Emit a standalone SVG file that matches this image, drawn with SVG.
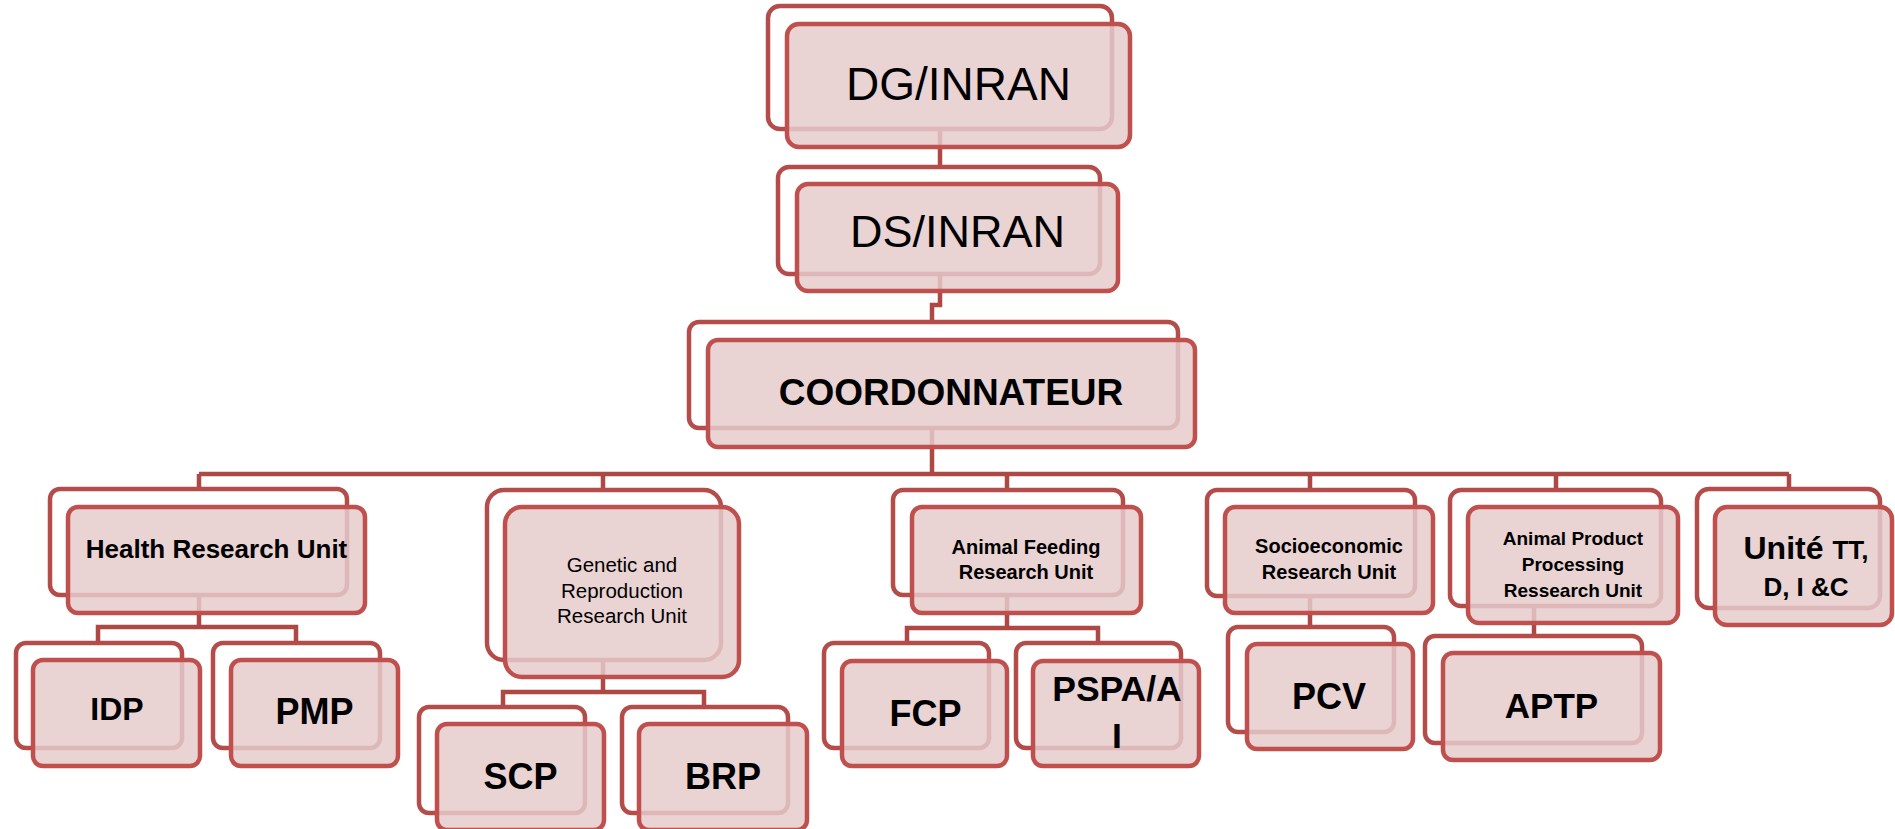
<svg xmlns="http://www.w3.org/2000/svg" width="1895" height="829" viewBox="0 0 1895 829">
<style>
.bk{fill:none;stroke:#B44C49;stroke-width:4.5}
.fr{fill:#E5CBCB;fill-opacity:0.85;stroke:#C0504D;stroke-width:4.5}
.cn{fill:none;stroke:#AD4845;stroke-width:4.5}
text{font-family:"Liberation Sans",Arial,sans-serif;fill:#000;text-anchor:middle}
.b{font-weight:bold}
</style>
<rect width="1895" height="829" fill="#fff"/>
<g id="connectors">
<path class="cn" d="M940,129V167"/>
<path class="cn" d="M940,274V305H932V322"/>
<path class="cn" d="M932,428V474"/>
<path class="cn" d="M199,474H1789"/>
<path class="cn" d="M199,474V489M603,474V490M1007,474V490M1310,474V490M1556,474V490M1789,474V489"/>
<path class="cn" d="M199,595V627M98,642V627H296V642"/>
<path class="cn" d="M603,660V692M503,707V692H704V707"/>
<path class="cn" d="M1007,595V628M907,643V628H1098V643"/>
<path class="cn" d="M1310,596V627"/>
<path class="cn" d="M1534,606V636"/>
</g>
<g id="dg">
<rect class="bk" x="768" y="6" width="344" height="123" rx="12"/>
<rect class="fr" x="787" y="24" width="343" height="123" rx="12"/>
<text x="958.5" y="100" font-size="46">DG/INRAN</text>
</g>
<g id="ds">
<rect class="bk" x="778" y="167" width="322" height="107" rx="11"/>
<rect class="fr" x="797" y="184" width="321" height="107" rx="11"/>
<text x="957.5" y="247" font-size="45">DS/INRAN</text>
</g>
<g id="coord">
<rect class="bk" x="689" y="322" width="489" height="106" rx="10"/>
<rect class="fr" x="708" y="340" width="487" height="107" rx="10"/>
<text class="b" x="951" y="405" font-size="37">COORDONNATEUR</text>
</g>
<g id="health">
<rect class="bk" x="50" y="489" width="297" height="106" rx="10"/>
<rect class="fr" x="68" y="507" width="297" height="106" rx="10"/>
<text class="b" x="216.5" y="558" font-size="26">Health Research Unit</text>
</g>
<g id="idp">
<rect class="bk" x="16" y="643" width="166" height="105" rx="10"/>
<rect class="fr" x="33" y="660" width="167" height="106" rx="10"/>
<text class="b" x="117" y="720" font-size="32">IDP</text>
</g>
<g id="pmp">
<rect class="bk" x="213" y="643" width="167" height="105" rx="10"/>
<rect class="fr" x="231" y="660" width="167" height="106" rx="10"/>
<text class="b" x="314.5" y="724" font-size="36">PMP</text>
</g>
<g id="genetic">
<rect class="bk" x="487" y="490" width="234" height="170" rx="17"/>
<rect class="fr" x="505" y="507" width="234" height="170" rx="17"/>
<text x="622" y="572" font-size="20.5">Genetic and</text>
<text x="622" y="598" font-size="20.5">Reproduction</text>
<text x="622" y="623" font-size="20.5">Research Unit</text>
</g>
<g id="scp">
<rect class="bk" x="419" y="707" width="166" height="106" rx="10"/>
<rect class="fr" x="437" y="724" width="167" height="106" rx="10"/>
<text class="b" x="520.5" y="789" font-size="36">SCP</text>
</g>
<g id="brp">
<rect class="bk" x="622" y="707" width="166" height="106" rx="10"/>
<rect class="fr" x="639" y="724" width="168" height="106" rx="10"/>
<text class="b" x="723" y="789" font-size="36">BRP</text>
</g>
<g id="feeding">
<rect class="bk" x="893" y="490" width="230" height="105" rx="10"/>
<rect class="fr" x="912" y="507" width="229" height="106" rx="10"/>
<text class="b" x="1026" y="554" font-size="20">Animal Feeding</text>
<text class="b" x="1026" y="579" font-size="20">Research Unit</text>
</g>
<g id="fcp">
<rect class="bk" x="824" y="643" width="165" height="105" rx="10"/>
<rect class="fr" x="842" y="661" width="165" height="105" rx="10"/>
<text class="b" x="925.5" y="726" font-size="36">FCP</text>
</g>
<g id="pspa">
<rect class="bk" x="1016" y="643" width="165" height="105" rx="10"/>
<rect class="fr" x="1033" y="661" width="166" height="105" rx="10"/>
<text class="b" x="1117" y="701" font-size="35.5">PSPA/A</text>
<text class="b" x="1117" y="748" font-size="35.5">I</text>
</g>
<g id="socio">
<rect class="bk" x="1207" y="490" width="208" height="106" rx="10"/>
<rect class="fr" x="1225" y="507" width="208" height="106" rx="10"/>
<text class="b" x="1329" y="553" font-size="20">Socioeconomic</text>
<text class="b" x="1329" y="579" font-size="20">Research Unit</text>
</g>
<g id="pcv">
<rect class="bk" x="1228" y="627" width="166" height="105" rx="10"/>
<rect class="fr" x="1247" y="644" width="166" height="105" rx="10"/>
<text class="b" x="1329" y="709" font-size="36">PCV</text>
</g>
<g id="product">
<rect class="bk" x="1450" y="490" width="211" height="116" rx="11"/>
<rect class="fr" x="1468" y="507" width="210" height="116" rx="11"/>
<text class="b" x="1573" y="545" font-size="19">Animal Product</text>
<text class="b" x="1573" y="571" font-size="19">Processing</text>
<text class="b" x="1573" y="597" font-size="19">Ressearch Unit</text>
</g>
<g id="aptp">
<rect class="bk" x="1425" y="636" width="217" height="107" rx="10"/>
<rect class="fr" x="1443" y="653" width="217" height="107" rx="10"/>
<text class="b" x="1551.5" y="718" font-size="35">APTP</text>
</g>
<g id="unite">
<rect class="bk" x="1697" y="489" width="183" height="119" rx="12"/>
<rect class="fr" x="1715" y="507" width="177" height="118" rx="12"/>
<text class="b" x="1806" y="559" font-size="32">Unité <tspan font-size="26">TT,</tspan></text>
<text class="b" x="1806" y="596" font-size="26">D, I &amp;C</text>
</g>
</svg>
